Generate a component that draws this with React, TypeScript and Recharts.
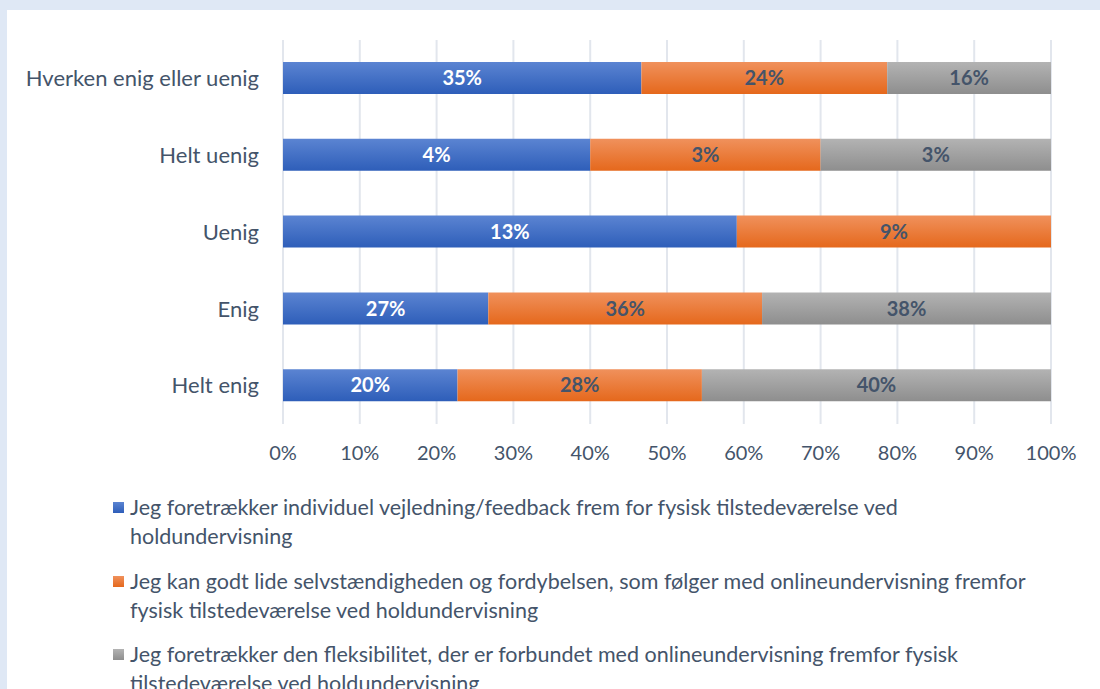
import React from 'react';
import { BarChart, Bar, XAxis, YAxis, CartesianGrid, Legend, LabelList } from 'recharts';

const categories = ['Hverken enig eller uenig', 'Helt uenig', 'Uenig', 'Enig', 'Helt enig'];
const individuel = [35, 4, 13, 27, 20];
const selvstaendig = [24, 3, 9, 36, 28];
const fleksibilitet = [16, 3, 0, 38, 40];
const xTicks = [0, 0.1, 0.2, 0.3, 0.4, 0.5, 0.6, 0.7, 0.8, 0.9, 1];

const seriesNames = [
  'Jeg foretrækker individuel vejledning/feedback frem for fysisk tilstedeværelse ved holdundervisning',
  'Jeg kan godt lide selvstændigheden og fordybelsen, som følger med onlineundervisning fremfor fysisk tilstedeværelse ved holdundervisning',
  'Jeg foretrækker den fleksibilitet, der er forbundet med onlineundervisning fremfor fysisk tilstedeværelse ved holdundervisning',
];

const data = categories.map((c, i) => ({
  category: c,
  a: individuel[i],
  b: selvstaendig[i],
  c: fleksibilitet[i],
}));

const FONT = 'Lato, "Open Sans", sans-serif';
const TEXT = '#44546A';

const gradients = [
  { id: 'gBlue', top: '#5B84D2', bottom: '#2E5EB9' },
  { id: 'gOrange', top: '#F0915C', bottom: '#E5681C' },
  { id: 'gGray', top: '#B3B3B3', bottom: '#8E8E8E' },
];

const fmt = (v: any) => (v ? `${v}%` : '');

const LegendContent = () => (
  <div style={{ fontFamily: FONT, fontSize: 21.5, color: TEXT, lineHeight: '29px' }}>
    {seriesNames.map((n, i) => (
      <div key={i} style={{ display: 'flex', alignItems: 'flex-start', marginBottom: 15.5 }}>
        <div
          style={{
            width: 11,
            height: 11,
            marginTop: 9,
            marginRight: 6,
            flex: '0 0 auto',
            background: `linear-gradient(${gradients[i].top}, ${gradients[i].bottom})`,
          }}
        />
        <div style={{ width: 900 }}>{n}</div>
      </div>
    ))}
  </div>
);

export default function App() {
  return (
    <div style={{ position: 'absolute', left: 0, top: 0, width: 1100, height: 689, background: '#DFE8F5', overflow: 'hidden' }}>
      <div style={{ position: 'absolute', left: 7, top: 10, width: 1093, height: 679, background: '#FFFFFF' }} />
      <div style={{ position: 'absolute', left: 0, top: 0 }}>
        <BarChart
          width={1100}
          height={689}
          data={data}
          layout="vertical"
          stackOffset="expand"
          margin={{ top: 40, right: 49, bottom: 235, left: 0 }}
        >
          <defs>
            {gradients.map((g) => (
              <linearGradient key={g.id} id={g.id} x1="0" y1="0" x2="0" y2="1">
                <stop offset="0%" stopColor={g.top} />
                <stop offset="100%" stopColor={g.bottom} />
              </linearGradient>
            ))}
          </defs>
          <CartesianGrid horizontal={false} stroke="#E2E6ED" strokeWidth={2} />
          <XAxis
            type="number"
            domain={[0, 1]}
            ticks={xTicks}
            tickFormatter={(v: number) => `${Math.round(v * 100)}%`}
            axisLine={false}
            tickLine={false}
            tickMargin={16}
            height={30}
            tick={{ fill: TEXT, fontSize: 20, fontFamily: FONT }}
            interval={0}
          />
          <YAxis
            type="category"
            dataKey="category"
            width={283}
            axisLine={false}
            tickLine={false}
            tickMargin={18}
            tick={{ fill: TEXT, fontSize: 22, fontFamily: FONT }}
          />
          <Legend
            layout="horizontal"
            verticalAlign="middle"
            align="center"
            wrapperStyle={{ top: 493, left: 113, width: 980 }}
            content={<LegendContent />}
          />
          <Bar dataKey="a" name={seriesNames[0]} stackId="s" fill="url(#gBlue)" barSize={32} isAnimationActive={false}>
            <LabelList dataKey="a" position="center" formatter={fmt} fill="#FFFFFF" fontSize={20} fontWeight="bold" fontFamily={FONT} />
          </Bar>
          <Bar dataKey="b" name={seriesNames[1]} stackId="s" fill="url(#gOrange)" barSize={32} isAnimationActive={false}>
            <LabelList dataKey="b" position="center" formatter={fmt} fill={TEXT} fontSize={20} fontWeight="bold" fontFamily={FONT} />
          </Bar>
          <Bar dataKey="c" name={seriesNames[2]} stackId="s" fill="url(#gGray)" barSize={32} isAnimationActive={false}>
            <LabelList dataKey="c" position="center" formatter={fmt} fill={TEXT} fontSize={20} fontWeight="bold" fontFamily={FONT} />
          </Bar>
        </BarChart>
      </div>
    </div>
  );
}
